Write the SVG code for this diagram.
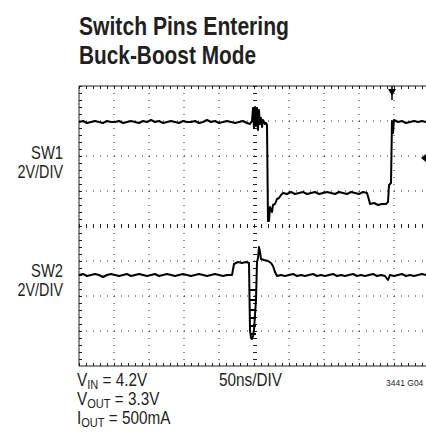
<svg xmlns="http://www.w3.org/2000/svg" width="426" height="436" viewBox="0 0 426 436">
<style>
.t{font-family:"Liberation Sans",Arial,sans-serif;fill:#231f20}
.title{font-size:26px;font-weight:bold}
.lbl{font-size:18px}
.sm{font-size:8.5px}
.dot{stroke:#231f20;stroke-width:1;stroke-dasharray:1 6;fill:none}
.frame{stroke:#231f20;stroke-width:1;fill:none}
.tick{stroke:#231f20;stroke-width:3;stroke-dasharray:1 6;fill:none}
.axis{stroke:#231f20;stroke-width:4;stroke-dasharray:1 6;fill:none}
.trace{stroke:#000;stroke-width:2;fill:none;stroke-linejoin:round}
</style>
<rect width="426" height="436" fill="#fff"/>
<g id="title">
<text class="t title" x="79" y="35" textLength="210" lengthAdjust="spacingAndGlyphs">Switch Pins Entering</text>
<text class="t title" x="79" y="64" textLength="177" lengthAdjust="spacingAndGlyphs">Buck-Boost Mode</text>
</g>
<g id="labels">
<text class="t lbl" transform="translate(63,159) scale(0.82,1)" text-anchor="end">SW1</text>
<text class="t lbl" transform="translate(63,178) scale(0.8,1)" text-anchor="end">2V/DIV</text>
<text class="t lbl" transform="translate(63,277) scale(0.82,1)" text-anchor="end">SW2</text>
<text class="t lbl" transform="translate(63,296) scale(0.8,1)" text-anchor="end">2V/DIV</text>
</g>
<g id="grid">
<path class="frame" d="M79,86H426M79,86V366M79,366H426"/>
<path class="tick" d="M79,87.5H426M79,364.5H426"/>
<path class="tick" d="M80.5,86V366"/>
<path class="dot" d="M114,86V366M149,86V366M184,86V366M219,86V366M289,86V366M324,86V366M359,86V366M394,86V366"/>
<path class="dot" d="M79,121H426M79,156H426M79,191H426M79,261H426M79,296H426M79,331H426"/>
<path class="axis" d="M79,226H426"/>
<path class="axis" d="M255,86V366"/>
</g>
<g id="markers">
<path d="M388,89L396,89L392,96Z" fill="#000"/>
<path d="M392,86V100" stroke="#000" stroke-width="1.5"/>
<path d="M421,158L426,154L426,162Z" fill="#000"/>
</g>
<g id="traces">
<path id="sw1" class="trace" d="M79,122 L83,121 L87,123 L91,122 L95,121 L99,122 L103,123 L107,121 L111,122 L115,122 L119,121 L123,123 L127,122 L131,121 L135,122 L139,123 L143,121 L147,122 L151,120 L155,122 L159,121 L163,123 L167,122 L171,121 L175,122 L179,123 L183,121 L187,122 L191,122 L195,121 L199,123 L203,122 L207,120 L211,122 L215,121 L219,123 L223,122 L227,121 L231,122 L235,123 L239,122 L243,121 L247,123 L250,124 L252,121 L253,108 L254,128 L255,107 L256,126 L257,108 L258,130 L259,110 L260,124 L261,118 L262,127 L263,120 L265,124 L266,123 L267,125 L268,221 L269,221 L270,207 L272,212 L273,205 L275,204 L277,199 L279,198 L281,195 L283,193 L287,194 L291,192 L295,194 L299,193 L303,192 L307,194 L311,193 L315,192 L319,194 L323,193 L327,192 L331,193 L335,194 L339,192 L343,193 L347,194 L351,192 L355,193 L359,194 L363,192 L367,193 L369,200 L370,204 L374,203 L378,205 L382,204 L386,204 L388,202 L389,185 L391,183 L392,121 L393,133 L394,120 L398,122 L402,121 L406,123 L410,122 L414,121 L418,122 L422,121 L426,122"/>
<path id="sw2" class="trace" d="M79,275 L83,274 L87,276 L91,275 L95,274 L99,275 L103,277 L107,275 L111,274 L115,275 L119,276 L123,275 L127,274 L131,276 L135,275 L139,274 L143,275 L147,276 L151,275 L155,274 L159,276 L163,275 L167,274 L171,275 L175,276 L179,275 L183,274 L187,275 L191,276 L195,275 L199,274 L203,275 L207,276 L211,275 L215,274 L219,275 L223,276 L227,275 L232,275 L234,264 L238,262 L242,263 L246,262 L249,263 L250,330 L251,338 L252,339 L253,336 L254,330 L256,300 L257,262 L258,258 L259,247 L260,252 L261,259 L264,260 L268,261 L271,263 L273,266 L275,272 L277,276 L281,275 L285,276 L289,275 L293,274 L297,276 L301,275 L305,276 L309,275 L313,274 L317,276 L321,275 L325,276 L329,275 L333,274 L337,276 L341,275 L345,276 L349,275 L353,274 L357,276 L361,275 L365,276 L369,275 L373,274 L377,276 L381,275 L385,276 L388,280 L390,275 L394,276 L398,275 L402,274 L406,276 L410,275 L414,276 L418,275 L422,274 L426,275"/>
<path class="trace" stroke-width="1.2" d="M250,290H256M250,300H256M250,310H256M250,318H256M250,326H256M250,334H256"/>
</g>
<g id="conditions">
<text class="t lbl" transform="translate(77,386) scale(0.85,1)">V<tspan font-size="13" dy="3">IN</tspan><tspan dy="-3"> = 4.2V</tspan></text>
<text class="t lbl" transform="translate(77,405) scale(0.85,1)">V<tspan font-size="13" dy="3">OUT</tspan><tspan dy="-3"> = 3.3V</tspan></text>
<text class="t lbl" transform="translate(77,424) scale(0.85,1)">I<tspan font-size="13" dy="3">OUT</tspan><tspan dy="-3"> = 500mA</tspan></text>
<text class="t lbl" transform="translate(219,386) scale(0.85,1)">50ns/DIV</text>
<text class="t sm" x="386" y="386">3441 G04</text>
</g>
</svg>
